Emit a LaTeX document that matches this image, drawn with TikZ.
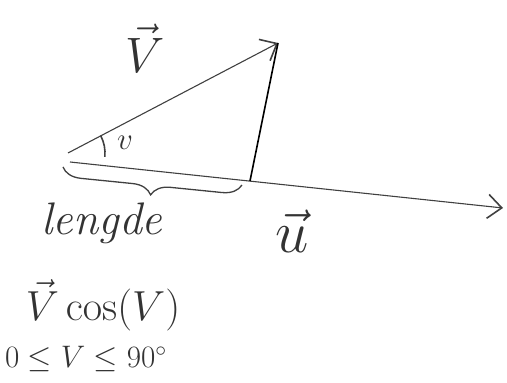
\documentclass[tikz,border=0pt]{standalone}
\usepackage{tikz}
\usetikzlibrary{arrows.meta,decorations.pathreplacing,calc}

\begin{document}
\begin{tikzpicture}[x=1pt,y=1pt]
    % Frame
    \useasboundingbox (0,0) rectangle (507,383);

    % Styling
    \tikzset{
        c_vec/.style={color=black!75, line width=1.1pt, -{Straight Barb[length=14pt,width=24pt,line width=1.6pt]}},
        c_proj/.style={color=black, line width=1.6pt},
        c_brace/.style={color=black!75, line width=1.3pt, decorate, decoration={brace, mirror, amplitude=19pt}},
        c_angle/.style={color=black!75, line width=1.6pt},
        c_text/.style={color=black!80, font=\huge, inner sep=0pt, scale=2.2, transform shape},
        c_math/.style={color=black!80, font=\huge, inner sep=0pt, scale=2.4, transform shape},
        c_small/.style={color=black!80, font=\huge, inner sep=0pt, scale=1.5, transform shape}
    }

    % Define points
    \coordinate (O) at (68,230);
    \coordinate (P) at (70,221);
    \coordinate (V) at (278,340);
    \coordinate (U) at (503,175);
    \coordinate (F) at (250,202);
    \coordinate (B1) at (63,216);
    \coordinate (B2) at (242,198);

    % Draw vectors
    \draw[c_vec] (O) -- (V);
    \draw[c_vec] (P) -- (U);

    % Drop to u
    \draw[c_proj] (V) -- (F);

    % Angle
    \draw[c_angle] ($(O)+(28:37)$) arc (28:-6:37);

    % Brace under the projection
    \draw[c_brace] (B1) -- (B2) coordinate[midway] (Bm);

    % Labels
    \node[c_math] (lv) at (145,335) {$\vec{V}$};
    \node[c_small] (la) at (125,240) {$v$};
    \node[c_math, font=\Huge] (lu) at (292,152) {$\vec{u}$};
    \node[c_text] (ll) at (102,160) {\itshape lengde};
    \node[c_small, scale=1.35] (lc) at (103,78) {$\vec{V}\cos(V)$};
    \node[c_small] (lr) at (86,24) {$0\leq V\leq 90^\circ$};
\end{tikzpicture}
\end{document}
